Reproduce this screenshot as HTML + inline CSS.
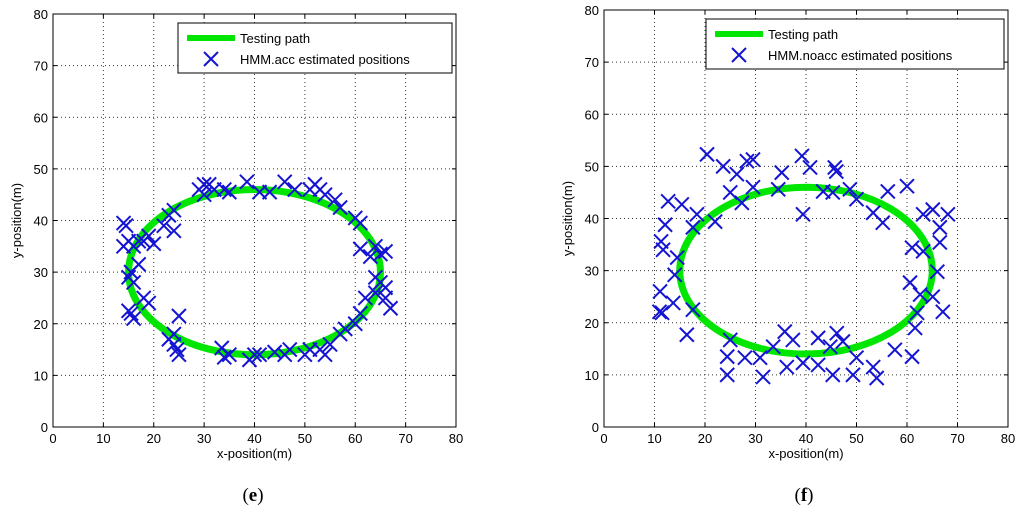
<!DOCTYPE html>
<html><head><meta charset="utf-8"><style>
body{margin:0;background:#fff;}
svg text{font-family:"Liberation Sans",sans-serif;}
</style></head><body>
<svg id="c" width="1024" height="518" xmlns="http://www.w3.org/2000/svg"></svg>
<script>
const xTicks=[0,10,20,30,40,50,60,70,80];
const yTicks=[0,10,20,30,40,50,60,70,80];
const pathCenter=[40,30];
const pathRadii=[25,16];
const accX=[14,14.5,14,15,16,15.5,16,15,17,15,15.5,16,18,19,17,19,18,20,22,23,24,24,23,24,25,25,24,29,30,31,30,32,34,35,38.5,41,43,46,48,51,52,53,54,56,57,60,61,61,63,64,65,66,64,65,66,66,67,64,62,61,60,58,57,55,54,53,51,50,47,46,44,40,39,41,35,34,33.5,24.6];
const accY=[39.5,39,35,36,35,30,28,29,31.5,22.5,22,21,25,24,36,37,36,35.5,39,41,42,38,17,16,14,21.5,18,46,47,47,45,46,46,45.5,47.5,45.5,45.5,47.5,46,46,47,46,45,44,42.5,40.5,39.5,34.5,33,35,33.5,34,29,28,27,25,23,26,25,22,20,19,18,16,14,15,15,14,15,14,14.5,14,13,14,14,13.5,15.3,15];
const noaccX=[20.4,23.6,28.3,29.5,26.3,25,27.3,29.5,35.2,34.5,39.2,40.8,39.4,43.4,45.3,45.7,46,48.7,50,53.3,55.2,56.2,60,63.2,65.1,68.1,66.5,66.5,61,63.2,66,60.6,62.6,65.1,67.1,62,61.6,57.6,61,53.3,54,50,49.3,45.3,46.1,47.3,44.8,42.4,42.4,39.4,36.2,35.8,37.4,33.5,31.5,30.9,27.9,24.4,24.4,25,16.4,17.6,13.7,11,11.5,11.1,14,14.5,11.7,11.3,12.1,12.7,15.4,18.4,17.6,22];
const noaccY=[52.3,50,51,51.3,48.5,45,43,46,48.8,45.6,52,49.8,40.8,45.2,45,49.8,49,45.6,43.7,41.1,39.2,45.2,46.2,40.8,41.7,40.8,38.3,35.4,34.4,33.7,29.8,27.7,25.4,25,22.1,21.9,19,14.8,13.5,11.5,9.4,13.3,10,10,18,16.4,15.4,17.1,11.9,12.3,11.5,18.3,16.7,15.4,9.6,13.3,13.3,13.5,10,16.7,17.7,22.5,23.8,22.1,21.9,26,29.2,32.5,34,35.6,38.8,43.3,42.7,40.8,38.3,39.4];
const NS='http://www.w3.org/2000/svg';
const svg=document.getElementById('c');
function mk(tag,attrs,parent,txt){const e=document.createElementNS(NS,tag);for(const k in attrs)e.setAttribute(k,attrs[k]);if(txt!==undefined)e.textContent=txt;(parent||svg).appendChild(e);return e;}
function panel(id,L,R,T,B,xs,ys,legendLabel,legX,legY,caption,capX){
  const g=mk('g',{});
  
  
  const sx=v=>L+(v-0)/80*(R-L), sy=v=>B-(v-0)/80*(B-T);
  // grid
  xTicks.forEach(t=>{if(t>0&&t<80){const l=mk('line',{x1:sx(t),x2:sx(t),y1:T,y2:B,stroke:'#333','stroke-width':1,'stroke-dasharray':'1,3'},g);}});
  yTicks.forEach(t=>{if(t>0&&t<80){const l=mk('line',{x1:L,x2:R,y1:sy(t),y2:sy(t),stroke:'#333','stroke-width':1,'stroke-dasharray':'1,3'},g);}});
  const box=mk('rect',{x:L,y:T,width:R-L,height:B-T,fill:'none',stroke:'#000','stroke-width':1},g);
  
  xTicks.forEach(t=>{mk('line',{x1:sx(t),x2:sx(t),y1:B,y2:B-4,stroke:'#000'},g);mk('line',{x1:sx(t),x2:sx(t),y1:T,y2:T+4,stroke:'#000'},g);
    const tx=mk('text',{x:sx(t),y:B+16,'text-anchor':'middle','font-size':13},g,String(t));});
  yTicks.forEach(t=>{mk('line',{x1:L,x2:L+4,y1:sy(t),y2:sy(t),stroke:'#000'},g);mk('line',{x1:R,x2:R-4,y1:sy(t),y2:sy(t),stroke:'#000'},g);
    const tx=mk('text',{x:L-5,y:sy(t)+5,'text-anchor':'end','font-size':13},g,String(t));});
  const xl=mk('text',{x:(L+R)/2,y:B+31,'text-anchor':'middle','font-size':13},g,'x-position(m)');
  const yl=mk('text',{x:0,y:0,'text-anchor':'middle','font-size':13,transform:`translate(${L-32},${(T+B)/2}) rotate(-90)`},g,'y-position(m)');
  const el=mk('ellipse',{cx:sx(pathCenter[0]),cy:sy(pathCenter[1]),rx:pathRadii[0]/80*(R-L),ry:pathRadii[1]/80*(B-T),fill:'none',stroke:'#00e600','stroke-width':7},g);
  
  xs.forEach((x,i)=>{const px=sx(x),py=sy(ys[i]);const p=mk('path',{d:`M${px-7},${py-7}L${px+7},${py+7}M${px-7},${py+7}L${px+7},${py-7}`,stroke:'#1414d2','stroke-width':2,fill:'none'},g);
    });
  const lg=mk('g',{},g);
  mk('rect',{x:legX,y:legY,width:R-4-legX,height:50,fill:'#fff',stroke:'#000'},lg);
  mk('line',{x1:legX+9,x2:legX+57,y1:legY+15,y2:legY+15,stroke:'#00e600','stroke-width':6},lg);
  const t1=mk('text',{x:legX+62,y:legY+20,'font-size':13},lg,'Testing path');
  const cx=legX+33,cy=legY+36;mk('path',{d:`M${cx-7},${cy-7}L${cx+7},${cy+7}M${cx-7},${cy+7}L${cx+7},${cy-7}`,stroke:'#1414d2','stroke-width':2},lg);
  const t2=mk('text',{x:legX+62,y:legY+41,'font-size':13},lg,legendLabel);
  const c=mk('text',{x:capX,y:501,'text-anchor':'middle','font-size':19,style:'font-family:"Liberation Serif",serif'},svg);
  c.innerHTML='(<tspan font-weight="bold">'+caption+'</tspan>)';
  
}
panel('hmm-acc',53,456,14,427,accX,accY,'HMM.acc estimated positions',178,23,'e',253);
panel('hmm-noacc',604,1008,10,427,noaccX,noaccY,'HMM.noacc estimated positions',706,19,'f',804);
</script>
</body></html>
